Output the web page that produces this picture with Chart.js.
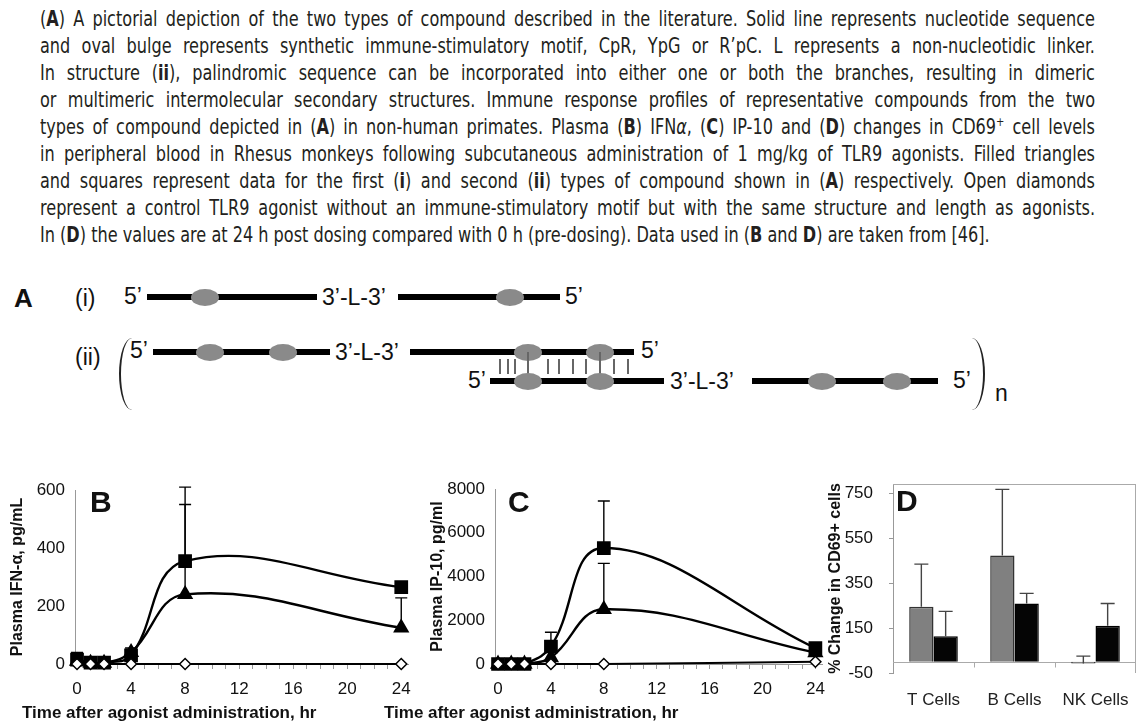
<!DOCTYPE html>
<html lang="en">
<head>
<meta charset="UTF-8">
<title>TLR9 agonist figure</title>
<script src="https://cdn.jsdelivr.net/npm/chart.js"></script>
<style>
  body { margin: 0; width: 1136px; height: 725px; background: #fff; position: relative; overflow: hidden;
         font-family: "Liberation Sans", Arial, sans-serif; color: #111; }
  #caption { position: absolute; left: 40px; top: 0; font-family: "DejaVu Sans Condensed", "DejaVu Sans", sans-serif;
             font-stretch: condensed; font-size: 21px; color: #231f20; }
  #caption .ln { position: absolute; left: 0; height: 27px; line-height: 27px; white-space: nowrap; display: inline-block;
                 transform-origin: 0 50%; }
  .dna { position: absolute; font-size: 23px; line-height: 24px; white-space: nowrap; }
  .strand { position: absolute; height: 6px; background: #000; }
  .bulge { position: absolute; width: 28px; height: 17px; border-radius: 50%; background: #8a8a8a; }
  .bp { position: absolute; width: 2px; background: #666; }
  canvas { position: absolute; }
  .panel { position: absolute; font-weight: bold; font-size: 30px; line-height: 30px; }
  .xtitle { position: absolute; font-weight: bold; font-size: 17px; line-height: 20px; white-space: nowrap; }
</style>
</head>
<body>
<div id="caption">
  <div class="ln">(<b>A</b>) A pictorial depiction of the two types of compound described in the literature. Solid line represents nucleotide sequence</div>
  <div class="ln">and oval bulge represents synthetic immune-stimulatory motif, CpR, YpG or R’pC. L represents a non-nucleotidic linker.</div>
  <div class="ln">In structure (<b>ii</b>), palindromic sequence can be incorporated into either one or both the branches, resulting in dimeric</div>
  <div class="ln">or multimeric intermolecular secondary structures. Immune response profiles of representative compounds from the two</div>
  <div class="ln">types of compound depicted in (<b>A</b>) in non-human primates. Plasma (<b>B</b>) IFN<i>α</i>, (<b>C</b>) IP-10 and (<b>D</b>) changes in CD69<sup style="font-size:13px;line-height:0">+</sup> cell levels</div>
  <div class="ln">in peripheral blood in Rhesus monkeys following subcutaneous administration of 1 mg/kg of TLR9 agonists. Filled triangles</div>
  <div class="ln">and squares represent data for the first (<b>i</b>) and second (<b>ii</b>) types of compound shown in (<b>A</b>) respectively. Open diamonds</div>
  <div class="ln">represent a control TLR9 agonist without an immune-stimulatory motif but with the same structure and length as agonists.</div>
  <div class="ln last">In (<b>D</b>) the values are at 24 h post dosing compared with 0 h (pre-dosing). Data used in (<b>B</b> and <b>D</b>) are taken from [46].</div>
</div>

<div id="diagram"></div>

<canvas id="chartB" width="420" height="255" style="left:0;top:470px"></canvas>
<canvas id="chartC" width="420" height="255" style="left:420px;top:470px"></canvas>
<canvas id="chartD" width="316" height="255" style="left:820px;top:470px"></canvas>

<div class="panel" style="left:90px;top:487px">B</div>
<div class="panel" style="left:508px;top:487px">C</div>
<div class="panel" style="left:896px;top:486px">D</div>
<div class="xtitle" style="left:22px;top:703px">Time after agonist administration, hr</div>
<div class="xtitle" style="left:384px;top:703px">Time after agonist administration, hr</div>

<script>
// ---- data ----
const hours = [0, 1, 2, 4, 8, 24];
const timeTicks = [0, 4, 8, 12, 16, 20, 24];

// B: plasma IFN-alpha, pg/mL
const ifnSquare = [15, 5, 5, 30, 355, 265];
const ifnSquareErr = [40, null, null, null, 550, 283];
const ifnTriangle = [10, 3, 3, 40, 240, 125];
const ifnTriangleErr = [null, null, null, 55, 610, 228];
const ifnDiamond = [0, 0, 0, 0, 0, 0];
const ifnTicks = [0, 200, 400, 600];

// C: plasma IP-10, pg/ml
const ipSquare = [0, 0, 0, 800, 5300, 730];
const ipSquareErr = [null, null, null, 1450, 7450, null];
const ipTriangle = [0, 0, 0, 300, 2500, 520];
const ipTriangleErr = [null, null, null, null, 4600, null];
const ipDiamond = [0, 0, 0, 0, 0, 100];
const ipTicks = [0, 2000, 4000, 6000, 8000];

// D: % change in CD69+ cells
const cellTypes = ['T Cells', 'B Cells', 'NK Cells'];
const cd69Type1 = [245, 472, -8];
const cd69Type1Err = [434, 766, 25];
const cd69Type2 = [113, 259, 160];
const cd69Type2Err = [224, 304, 259];
const cd69Ticks = [-50, 150, 350, 550, 750];

// ---- caption: condensed, lines 1-8 justified with small gaps ----
const capWidth = 1055;
const lines = document.querySelectorAll('#caption .ln');
const last = lines[lines.length - 1];
const s = 1000 / lines[0].getBoundingClientRect().width;
lines.forEach((el, i) => {
  el.style.top = (6 + i * 27) + 'px';
  el.style.transform = 'scaleX(' + s + ')';
  if (el === last) return;
  el.style.width = (capWidth / s) + 'px';
  el.style.textAlign = 'justify';
  el.style.textAlignLast = 'justify';
});

// ---- schematic A ----
const diagram = document.getElementById('diagram');
function add(cls, css, html) {
  const d = document.createElement('div');
  d.className = cls;
  d.style.cssText = css;
  if (html) d.innerHTML = html;
  diagram.appendChild(d);
}
function text(t, x, cy, extra) { add('dna', 'left:' + x + 'px;top:' + (cy - 12) + 'px;' + (extra || ''), t); }
function strand(x1, x2, cy) { add('strand', 'left:' + x1 + 'px;top:' + (cy - 3) + 'px;width:' + (x2 - x1) + 'px'); }
function bulge(cx, cy) { add('bulge', 'left:' + (cx - 14) + 'px;top:' + (cy - 8.5) + 'px'); }
function pair(x, y1, y2) { add('bp', 'left:' + (x - 1) + 'px;top:' + y1 + 'px;height:' + (y2 - y1) + 'px'); }

// (i)
text('A', 14, 298, 'font-weight:bold;font-size:26px');
text('(i)', 75, 298);
text('5’', 124, 296);
strand(147, 317, 297); bulge(205, 297);
text('3’-L-3’', 322, 297);
strand(398, 560, 297); bulge(510, 297);
text('5’', 565, 296);

// (ii)
text('(ii)', 75, 357);
add('', 'position:absolute;left:119px;top:338px;width:13px;height:72px;border-left:2px solid #222;border-radius:13px 0 0 13px / 36px 0 0 36px');
text('5’', 130, 350);
strand(153, 330, 352); bulge(210, 352); bulge(283, 352);
text('3’-L-3’', 335, 352);
strand(410, 634, 352); bulge(528, 352); bulge(600, 352);
text('5’', 641, 350);
[500, 508, 515, 548, 559, 573, 586, 614, 628].forEach(x => pair(x, 359, 374));
pair(528, 352, 381); pair(600, 352, 381);
text('5’', 468, 380);
strand(490, 664, 381); bulge(528, 381); bulge(600, 381);
text('3’-L-3’', 670, 381);
strand(752, 938, 381); bulge(822, 381); bulge(897, 381);
text('5’', 953, 380);
add('', 'position:absolute;left:970px;top:338px;width:13px;height:72px;border-right:2px solid #222;border-radius:0 13px 13px 0 / 0 36px 36px 0');
text('n', 995, 393);

// ---- charts ----
Chart.defaults.font.family = '"Liberation Sans", Arial, sans-serif';
Chart.defaults.color = '#111';
Chart.defaults.animation = false;

const errorBars = {
  id: 'errorBars',
  afterDatasetsDraw(chart, args, opts) {
    const ctx = chart.ctx, y = chart.scales.y;
    chart.data.datasets.forEach((ds, i) => {
      if (!ds.errTop) return;
      const meta = chart.getDatasetMeta(i);
      ctx.save();
      ctx.strokeStyle = opts.color || '#000';
      ctx.lineWidth = 1.4;
      ds.errTop.forEach((v, j) => {
        if (v === null) return;
        const el = meta.data[j];
        const top = y.getPixelForValue(v);
        ctx.beginPath();
        ctx.moveTo(el.x, el.y);
        ctx.lineTo(el.x, top);
        ctx.moveTo(el.x - opts.cap, top);
        ctx.lineTo(el.x + opts.cap, top);
        ctx.stroke();
      });
      ctx.restore();
    });
  }
};

const hourMarks = [];
for (let h = 0; h <= 24; h++) hourMarks.push(h);

function pts(vals) { return hours.map((h, i) => ({ x: h, y: vals[i] })); }
function noPadX(s) { s.paddingLeft = 0; s.paddingRight = 0; }
function noPadY(s) { s.paddingTop = 0; s.paddingBottom = 0; }

function timeChart(id, sq, sqErr, tri, triErr, dia, yTicks, yMax, xMin, padRight, padTop, yTitle) {
  return new Chart(document.getElementById(id), {
    type: 'line',
    data: {
      datasets: [
        { data: pts(dia), borderColor: '#000', borderWidth: 2, tension: 0.4, pointStyle: 'rectRot',
          pointRadius: 5.5, pointBackgroundColor: '#fff', pointBorderColor: '#000', pointBorderWidth: 1.5, clip: false },
        { data: pts(tri), errTop: triErr, borderColor: '#000', borderWidth: 2.4, tension: 0.4, pointStyle: 'triangle',
          pointRadius: 7, pointBackgroundColor: '#000', pointBorderColor: '#000', clip: false },
        { data: pts(sq), errTop: sqErr, borderColor: '#000', borderWidth: 2.4, tension: 0.4, pointStyle: 'rect',
          pointRadius: 8, pointBackgroundColor: '#000', pointBorderColor: '#000', clip: false }
      ]
    },
    options: {
      responsive: false,
      devicePixelRatio: 1,
      layout: { padding: { top: padTop, right: padRight, left: 0, bottom: 0 } },
      plugins: { legend: { display: false }, tooltip: { enabled: false },
                 errorBars: { cap: 6, color: '#000' } },
      scales: {
        x: {
          type: 'linear', min: xMin, max: 24.5,
          afterBuildTicks: s => { s.ticks = hourMarks.map(v => ({ value: v })); },
          afterFit: s => { s.height = 61; noPadX(s); },
          grid: { drawOnChartArea: false, drawTicks: true, tickLength: 5, color: '#999' },
          border: { color: '#999' },
          ticks: { autoSkip: false, maxRotation: 0, padding: 10, font: { size: 17 },
                   callback: v => timeTicks.includes(v) ? String(v) : '' }
        },
        y: {
          min: 0, max: yMax,
          afterBuildTicks: s => { s.ticks = yTicks.map(v => ({ value: v })); },
          afterFit: s => { s.width = 75; noPadY(s); },
          grid: { drawOnChartArea: false, drawTicks: false },
          border: { color: '#999' },
          ticks: { padding: 10, font: { size: 17 }, callback: v => String(v) },
          title: { display: true, text: yTitle, font: { size: 16, weight: 'bold' }, padding: { top: 8, bottom: 0 } }
        }
      }
    },
    plugins: [errorBars]
  });
}

timeChart('chartB', ifnSquare, ifnSquareErr, ifnTriangle, ifnTriangleErr, ifnDiamond,
  ifnTicks, 600, -0.15, 12, 20, 'Plasma IFN-α, pg/mL');
timeChart('chartC', ipSquare, ipSquareErr, ipTriangle, ipTriangleErr, ipDiamond,
  ipTicks, 8000, -0.23, 18, 19, 'Plasma IP-10, pg/ml');

const frameD = {
  id: 'frameD',
  beforeDatasetsDraw(chart) {
    const { ctx, chartArea: a, scales: { x, y } } = chart;
    const z = Math.round(y.getPixelForValue(0)) + 0.5;
    ctx.save();
    ctx.strokeStyle = '#aaa';
    ctx.lineWidth = 1;
    ctx.beginPath();
    ctx.moveTo(a.left, a.top + 0.5); ctx.lineTo(a.right, a.top + 0.5);
    ctx.moveTo(a.right - 0.5, a.top); ctx.lineTo(a.right - 0.5, a.bottom);
    ctx.moveTo(a.left, z); ctx.lineTo(a.right, z);
    for (let i = 0; i < cellTypes.length - 1; i++) {
      const bx = Math.round((x.getPixelForValue(i) + x.getPixelForValue(i + 1)) / 2) + 0.5;
      ctx.moveTo(bx, z); ctx.lineTo(bx, z + 5);
    }
    ctx.stroke();
    ctx.restore();
  }
};

new Chart(document.getElementById('chartD'), {
  type: 'bar',
  data: {
    labels: cellTypes,
    datasets: [
      { data: cd69Type1, errTop: cd69Type1Err, backgroundColor: '#808080', borderColor: '#333', borderWidth: 1.5 },
      { data: cd69Type2, errTop: cd69Type2Err, backgroundColor: '#050505', borderColor: '#000', borderWidth: 1.5 }
    ]
  },
  options: {
    responsive: false,
    devicePixelRatio: 1,
    layout: { padding: { top: 14, right: 0, left: 0, bottom: 0 } },
    categoryPercentage: 0.6,
    barPercentage: 1.0,
    plugins: { legend: { display: false }, tooltip: { enabled: false },
               errorBars: { cap: 7, color: '#444' } },
    scales: {
      x: {
        afterFit: s => { s.height = 52; noPadX(s); },
        grid: { display: false },
        border: { display: false },
        ticks: { padding: 9, font: { size: 17 }, color: '#222' }
      },
      y: {
        min: -50, max: 790,
        afterBuildTicks: s => { s.ticks = cd69Ticks.map(v => ({ value: v })); },
        afterFit: s => { s.width = 73; noPadY(s); },
        grid: { drawOnChartArea: false, drawTicks: true, tickLength: 4, color: '#999' },
        border: { color: '#999' },
        ticks: { padding: 16, font: { size: 17 }, callback: v => String(v) },
        title: { display: true, text: '% Change in CD69+ cells', font: { size: 16, weight: 'bold' }, padding: { top: 6, bottom: 0 } }
      }
    }
  },
  plugins: [frameD, errorBars]
});
</script>
</body>
</html>
